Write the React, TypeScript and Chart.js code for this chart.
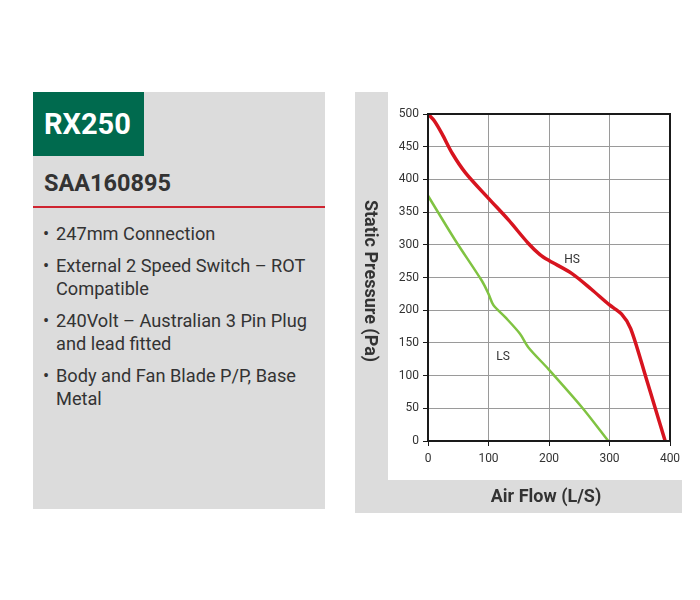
import React, { useEffect, useRef } from "react";
import { Chart, registerables } from "chart.js";

Chart.register(...registerables);

const hsFlow = [0, 10, 23, 40, 62, 100, 133, 166, 185, 200, 238, 270, 300, 320, 335, 360, 375, 392];
const hsPressure = [500, 490, 470, 440, 410, 371, 338, 302, 285, 276, 256, 232, 208, 194, 172, 98, 52, 0];
const lsFlow = [0, 45, 89, 100, 108, 128, 152, 166, 199, 254, 298];
const lsPressure = [375, 307, 245, 225, 208, 189, 164, 143, 110, 52, 0];
const seriesNames = ["HS", "LS"];
const labelFlow = [238, 124];
const labelPressure = [277, 128];
const xTicks = [0, 100, 200, 300, 400];
const yTicks = [0, 50, 100, 150, 200, 250, 300, 350, 400, 450, 500];

const bullets = [
  ["247mm Connection"],
  ["External 2 Speed Switch \u2013 ROT", "Compatible"],
  ["240Volt \u2013 Australian 3 Pin Plug", "and lead fitted"],
  ["Body and Fan Blade P/P, Base", "Metal"],
];

const FONT = "Roboto, 'Noto Sans', sans-serif";

const labelPlugin = {
  id: "curveLabels",
  afterDatasetsDraw(chart: any) {
    const { ctx, scales, chartArea } = chart;
    ctx.save();
    ctx.font = `12px ${FONT}`;
    ctx.fillStyle = "#333";
    ctx.textAlign = "center";
    ctx.textBaseline = "middle";
    seriesNames.forEach((n, i) => {
      ctx.fillText(n, scales.x.getPixelForValue(labelFlow[i]), scales.y.getPixelForValue(labelPressure[i]));
    });
    ctx.strokeStyle = "#1a1a1a";
    ctx.lineWidth = 2;
    ctx.strokeRect(chartArea.left, chartArea.top, chartArea.right - chartArea.left, chartArea.bottom - chartArea.top);
    ctx.restore();
  },
};

function PerfChart() {
  const ref = useRef<HTMLCanvasElement>(null);
  useEffect(() => {
    if (!ref.current) return;
    const chart = new Chart(ref.current, {
      type: "scatter",
      data: {
        datasets: [
          {
            label: seriesNames[0],
            data: hsFlow.map((x, i) => ({ x, y: hsPressure[i] })),
            showLine: true,
            borderColor: "#d7141f",
            borderWidth: 3.5,
            pointRadius: 0,
            tension: 0.3,
          },
          {
            label: seriesNames[1],
            data: lsFlow.map((x, i) => ({ x, y: lsPressure[i] })),
            showLine: true,
            borderColor: "#80c342",
            borderWidth: 2.5,
            pointRadius: 0,
            tension: 0.3,
          },
        ],
      },
      options: {
        animation: false,
        responsive: false,
        maintainAspectRatio: false,
        layout: { padding: { top: 22, right: 12, left: 0, bottom: 0 } },
        plugins: { legend: { display: false }, tooltip: { enabled: false } },
        scales: {
          x: {
            type: "linear",
            min: 0,
            max: 400,
            afterBuildTicks: (s: any) => {
              s.ticks = xTicks.map((v) => ({ value: v }));
            },
            afterFit: (s: any) => {
              s.height = 72;
              s.paddingLeft = 0;
              s.paddingRight = 0;
            },
            grid: { color: "#9a9a9a", lineWidth: 1, tickColor: "#1a1a1a", tickLength: 5 },
            border: { color: "#1a1a1a", width: 2 },
            ticks: { color: "#333", font: { family: FONT, size: 12 }, padding: 6, maxRotation: 0 },
          },
          y: {
            type: "linear",
            min: 0,
            max: 500,
            afterBuildTicks: (s: any) => {
              s.ticks = yTicks.map((v) => ({ value: v }));
            },
            afterFit: (s: any) => {
              s.width = 73;
              s.paddingTop = 0;
              s.paddingBottom = 0;
            },
            grid: { color: "#9a9a9a", lineWidth: 1, tickColor: "#1a1a1a", tickLength: 5 },
            border: { color: "#1a1a1a", width: 2 },
            ticks: { color: "#333", font: { family: FONT, size: 12 }, padding: 4 },
          },
        },
      },
      plugins: [labelPlugin],
    } as any);
    return () => chart.destroy();
  }, []);
  return <canvas ref={ref} width={327} height={421} style={{ position: "absolute", left: 355, top: 92, width: 327, height: 421 }} />;
}

export default function App() {
  return (
    <div style={{ position: "fixed", left: 0, top: 0, width: 700, height: 600, background: "#fff", fontFamily: FONT, overflow: "hidden" }}>
      {/* left panel */}
      <div style={{ position: "absolute", left: 33, top: 92, width: 292, height: 417, background: "#dcdcdc" }} />
      <div style={{ position: "absolute", left: 33, top: 92, width: 111, height: 64, background: "#006a4e" }} />
      <div style={{ position: "absolute", left: 44, top: 106, color: "#fff", fontWeight: 700, fontSize: 29, lineHeight: "36px" }}>RX250</div>
      <div style={{ position: "absolute", left: 44, top: 169, color: "#333", fontWeight: 700, fontSize: 23.5, lineHeight: "28px" }}>SAA160895</div>
      <div style={{ position: "absolute", left: 33, top: 206, width: 292, height: 2, background: "#cf2430" }} />
      <div style={{ position: "absolute", left: 43, top: 222, color: "#333", fontSize: 18.2, lineHeight: "23px" }}>
        {bullets.map((lines, i) => (
          <div key={i} style={{ display: "flex", marginBottom: 9 }}>
            <span style={{ width: 13, flex: "none" }}>{"\u2022"}</span>
            <span style={{ whiteSpace: "nowrap" }}>
              {lines.map((l, j) => (
                <React.Fragment key={j}>
                  {l}
                  {j < lines.length - 1 ? <br /> : null}
                </React.Fragment>
              ))}
            </span>
          </div>
        ))}
      </div>
      {/* right panel */}
      <div style={{ position: "absolute", left: 355, top: 92, width: 33, height: 421, background: "#dcdcdc" }} />
      <div style={{ position: "absolute", left: 355, top: 480, width: 327, height: 33, background: "#dcdcdc" }} />
      <PerfChart />
      <div style={{ position: "absolute", left: 371, top: 281, width: 0, height: 0 }}>
        <div style={{ position: "absolute", left: -120, top: -12, width: 240, textAlign: "center", transform: "rotate(90deg)", color: "#333", fontWeight: 700, fontSize: 18, lineHeight: "24px", whiteSpace: "nowrap" }}>
          Static Pressure (Pa)
        </div>
      </div>
      <div style={{ position: "absolute", left: 388, top: 484, width: 316, textAlign: "center", color: "#333", fontWeight: 700, fontSize: 18, lineHeight: "24px" }}>
        Air Flow (L/S)
      </div>
    </div>
  );
}
